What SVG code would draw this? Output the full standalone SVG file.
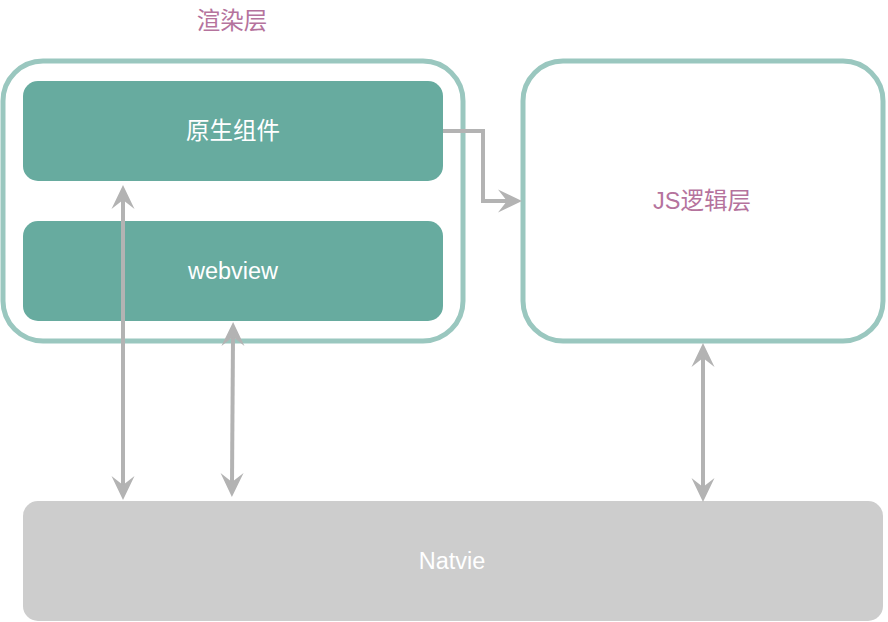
<svg xmlns="http://www.w3.org/2000/svg" width="888" height="622" viewBox="0 0 888 622">
<style>
.layer{fill:#fff;stroke:#9AC7BF;stroke-width:5}
.comp{fill:#67AB9F}
.base{fill:#CDCDCD}
.conn{fill:none;stroke:#B3B3B3;stroke-width:4}
.wt,.pt{font-family:"Liberation Sans","Noto Sans CJK SC",sans-serif;font-size:23.5px;text-anchor:middle;dominant-baseline:central}
.wt{fill:#fff}
.pt{fill:#B5739D}
</style>
<defs>
<marker id="ah" markerUnits="userSpaceOnUse" viewBox="-10 -12 26 24" refX="0" refY="0" markerWidth="26" markerHeight="24" orient="auto-start-reverse" overflow="visible">
<path d="M15,0 L-9,-11.5 L0,0 L-9,11.5 Z" fill="#B3B3B3"/>
</marker>
</defs>
<text class="pt" x="232" y="21">渲染层</text>
<g id="render-layer">
<rect class="layer" x="3" y="61" width="460" height="280" rx="40"/>
</g>
<g id="native-comp">
<rect class="comp" x="23" y="81" width="420" height="100" rx="15"/>
<text class="wt" x="233" y="131">原生组件</text>
</g>
<g id="webview">
<rect class="comp" x="23" y="221" width="420" height="100" rx="15"/>
<text class="wt" x="233" y="271">webview</text>
</g>
<g id="js-layer">
<rect class="layer" x="523" y="61" width="360" height="280" rx="40"/>
<text class="pt" x="702" y="201">JS逻辑层</text>
</g>
<g id="native">
<rect class="base" x="23" y="501" width="860" height="120" rx="15"/>
<text class="wt" x="452" y="561">Natvie</text>
</g>
<g id="connectors">
<path class="conn" d="M443,131 H483 V201 H507" marker-end="url(#ah)"/>
<path class="conn" d="M123,200 V485" marker-start="url(#ah)" marker-end="url(#ah)"/>
<path class="conn" d="M233,337 L232,482" marker-start="url(#ah)" marker-end="url(#ah)"/>
<path class="conn" d="M703,358 V487" marker-start="url(#ah)" marker-end="url(#ah)"/>
</g>
</svg>
